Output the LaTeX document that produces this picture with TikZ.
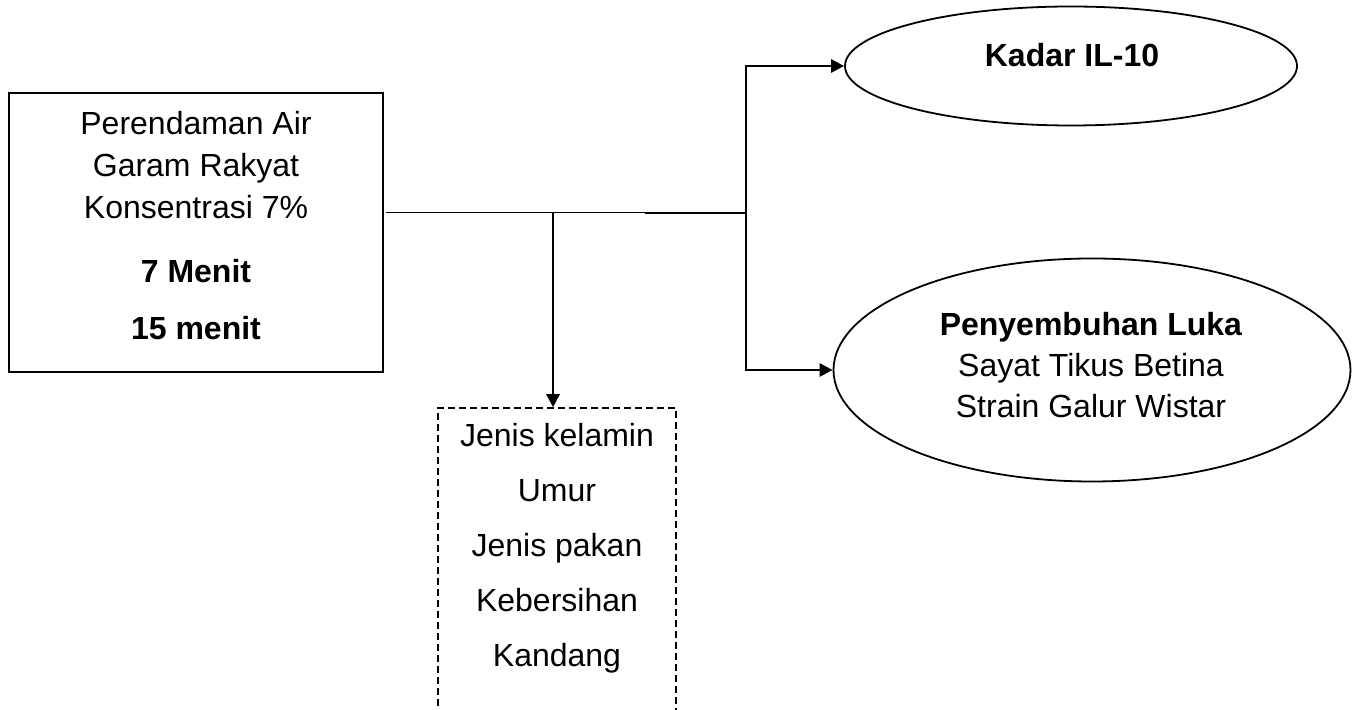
\documentclass[tikz,border=0pt]{standalone}
\usepackage{fontspec}
\setmainfont{Liberation Sans}
\usetikzlibrary{shapes.geometric,arrows.meta}

\begin{document}
\begin{tikzpicture}[x=0.5pt,y=-0.5pt,
    kotak/.style={draw=black, line width=0.9pt, inner sep=0pt},
    elips/.style={draw=black, ellipse, line width=0.9pt, inner sep=0pt},
    teks/.style={align=center, font=\fontsize{16}{21}\selectfont},
    garis/.style={black, line width=1.35pt},
    panah/.style={garis, -{Triangle[length=6.5pt,width=6.5pt]}}]
    \useasboundingbox (0,0) rectangle (1357,710);
    \clip (0,0) rectangle (1357,710);

    % Kotak perlakuan
    \node[kotak, minimum width=187pt, minimum height=139.5pt] (perlakuan) at (196,232.5) {};
    \node[teks] (teksperlakuan) at (196,225.5) {Perendaman Air\\Garam Rakyat\\Konsentrasi 7\%\\[11pt]\textbf{7 Menit}\\[7.5pt]\textbf{15 menit}};

    % Elips hasil
    \node[elips, minimum width=226pt, minimum height=59.5pt] (il10) at (1071,66) {};
    \node[teks, font=\fontsize{16}{21}\selectfont\bfseries] (teksil10) at (1072,55) {Kadar IL-10};
    \node[elips, minimum width=258.5pt, minimum height=111.5pt] (luka) at (1092,370) {};
    \node[teks, font=\fontsize{16}{20.5}\selectfont] (teksluka) at (1091,365) {\textbf{Penyembuhan Luka}\\Sayat Tikus Betina\\Strain Galur Wistar};

    % Kotak variabel kendali (putus-putus)
    \node[kotak, dash pattern=on 3.5pt off 2pt, line width=0.75pt, minimum width=119pt, minimum height=161pt] (kendali) at (557,569) {};
    \node[teks, font=\fontsize{16}{27.5}\selectfont] (tekskendali) at (557,548) {Jenis kelamin\\Umur\\Jenis pakan\\Kebersihan\\Kandang};

    % Titik cabang
    \coordinate (mulai) at (386,213);
    \coordinate (bawah) at (553,213);
    \coordinate (tipis) at (645,213);
    \coordinate (kanan) at (746,213);

    % Garis penghubung
    \draw[black, line width=0.5pt] (mulai) -- (tipis);
    \draw[garis] (tipis) -- (kanan);
    \draw[panah] (kanan) |- (il10.west);
    \draw[panah] (kanan) |- (luka.west);
    \draw[panah] (bawah) -- (kendali.north -| bawah);
\end{tikzpicture}
\end{document}
